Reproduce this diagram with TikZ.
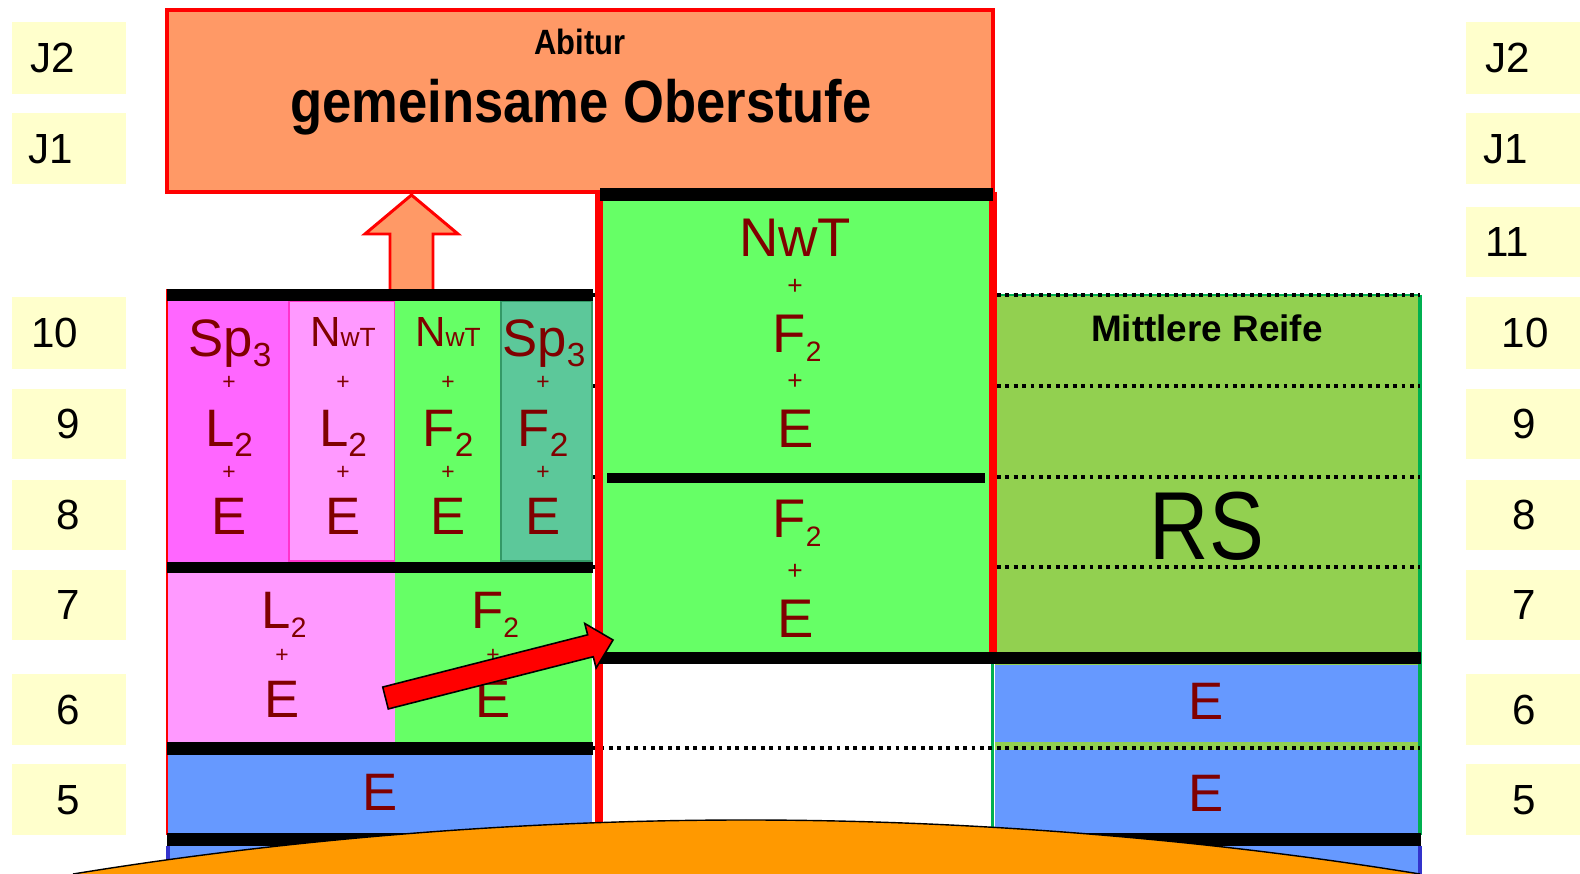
\documentclass[tikz,border=0pt]{standalone}
\usepackage{fontspec}
\setmainfont{Liberation Sans}
\newfontfamily\schmal[FakeStretch=0.88]{Liberation Sans}
\usetikzlibrary{calc}
\definecolor{lachs}{HTML}{FF9966}
\definecolor{magentafeld}{HTML}{FF66FF}
\definecolor{rosa}{HTML}{FF99FF}
\definecolor{pinkrand}{HTML}{FF33CC}
\definecolor{hellgruen}{HTML}{66FF66}
\definecolor{tuerkis}{HTML}{5CC89A}
\definecolor{tuerkisrand}{HTML}{339966}
\definecolor{blau}{HTML}{6699FF}
\definecolor{dunkelblau}{HTML}{3333CC}
\definecolor{rsgruen}{HTML}{92D050}
\definecolor{randgruen}{HTML}{00B050}
\definecolor{gelb}{HTML}{FFFFCC}
\definecolor{weinrot}{HTML}{800000}
\definecolor{sockel}{HTML}{FF9900}
\tikzset{
fach/.style={text=weinrot, inner sep=0pt, anchor=base, font=\fontsize{30}{30}\selectfont},
pluszeichen/.style={text=weinrot, inner sep=0pt, font=\fontsize{13}{13}\selectfont},
stufe/.style={inner sep=0pt, anchor=base, font=\fontsize{24}{24}\selectfont},
punkte/.style={line width=2.2pt, dash pattern=on 2.2pt off 2.6pt},
balken/.style={fill=black}
}
\def\idx#1{\raisebox{-5.5pt}{\fontsize{19}{19}\selectfont #1}}
\def\idxk#1{\raisebox{-5pt}{\fontsize{16}{16}\selectfont #1}}
\def\nwt{N{\fontsize{15}{15}\selectfont wT}}
\def\spalte#1#2#3{
\node[pluszeichen] (#1p1) at (#2,383) {+};
\node[fach] (#1mitte) at (#2,447) {#3};
\node[pluszeichen] (#1p2) at (#2,473) {+};
\node[fach] (#1unten) at (#2,535) {E};
}
\begin{document}
\begin{tikzpicture}[x=0.02cm,y=-0.02cm]
\useasboundingbox (0,0) rectangle (1580,874);
\foreach \n/\ya/\yb/\xl/\xr in {J2/22/94/53/1508, J1/113/184/51/1506, 10/297/369/55/1525, 9/389/459/68/1524, 8/480/550/68/1524, 7/570/640/68/1524, 6/674/745/68/1524, 5/764/835/68/1524}{
\fill[gelb] (12,\ya) rectangle (126,\yb);
\fill[gelb] (1466,\ya) rectangle (1580,\yb);
\node[stufe] (links\n) at (\xl,{(\ya+\yb)/2+15}) {\n};
\node[stufe] (rechts\n) at (\xr,{(\ya+\yb)/2+15}) {\n};
}
\fill[gelb] (1466,207) rectangle (1580,277);
\node[stufe] (rechts11) at (1507,257) {11};

% Realschule
\fill[rsgruen] (995,295) rectangle (1420,835);
\fill[blau] (995,665) rectangle (1418,742);
\fill[blau] (995,750) rectangle (1418,833);
\draw[randgruen, line width=2.8pt] (1420,295) -- (1420,835);
\draw[randgruen, line width=1.7pt] (992,652) -- (992,835);
\draw[randgruen, line width=1pt] (995,295) -- (1420,295);
\foreach \y in {295,386,477,567,748}
\draw[punkte] (592,\y) -- (1420,\y);

% Oberstufe
\draw[fill=lachs, draw=red, line width=2.8pt] (167,10) rectangle (993,192);
\node[inner sep=0pt, anchor=base, font=\schmal\bfseries\fontsize{20}{20}\selectfont] (abitur) at (580,55) {Abitur};
\node[inner sep=0pt, anchor=base, font=\schmal\bfseries\fontsize{34}{34}\selectfont] (oberstufe) at (581,123) {gemeinsame Oberstufe};
\draw[fill=lachs, draw=red, line width=1.7pt] (390,292) -- (390,234) -- (365,234) -- (411.5,195) -- (458,234) -- (433,234) -- (433,292);

% Gymnasium
\fill[magentafeld] (167,301) rectangle (289,562);
\draw[fill=rosa, draw=pinkrand, line width=0.6pt] (289,301) rectangle (395,561);
\fill[hellgruen] (395,301) rectangle (501,562);
\draw[fill=tuerkis, draw=tuerkisrand, line width=1pt] (501,301) rectangle (592,561);
\fill[rosa] (167,573) rectangle (395,742);
\fill[hellgruen] (395,573) rectangle (592,742);
\fill[blau] (167,755) rectangle (592,833);

% Mitte
\fill[hellgruen] (603,201) rectangle (990,652);
\draw[red, line width=4pt] (599,192) -- (599,840);
\draw[red, line width=4pt] (993,192) -- (993,652);
\draw[red, line width=1.2pt] (167,289) -- (167,835);

\fill[balken] (167,289) rectangle (593,301);
\fill[balken] (167,562) rectangle (593,573);
\fill[balken] (167,742) rectangle (593,755);
\fill[balken] (600,188) rectangle (993,201);
\fill[balken] (607,473) rectangle (985,483);
\fill[balken] (598,652) rectangle (1421,664);
\fill[balken] (167,833) rectangle (1421,846);

\fill[blau] (167,846) rectangle (1421,874);
\draw[dunkelblau, line width=2.3pt] (168,846) -- (168,874);
\draw[dunkelblau, line width=2.3pt] (1420,846) -- (1420,874);

% Faecher
\node[fach] (aoben) at (230,357) {Sp\idx{3}};
\node[fach, font=\fontsize{24}{24}\selectfont] (boben) at (343,347) {\nwt};
\node[fach, font=\fontsize{24}{24}\selectfont] (coben) at (448,347) {\nwt};
\node[fach] (doben) at (544,357) {Sp\idx{3}};
\spalte{a}{229}{L\idx{2}}
\spalte{b}{343}{L\idx{2}}
\spalte{c}{448}{F\idx{2}}
\spalte{d}{543}{F\idx{2}}

\node[fach] (lmitte) at (284,629) {L\idxk{2}};
\node[pluszeichen] (lplus) at (282,656) {+};
\node[fach] (lunten) at (282,718) {E};
\node[fach] (fmitte) at (495,629) {F\idxk{2}};
\node[pluszeichen] (fplus) at (493,656) {+};
\node[fach] (funten) at (493,718) {E};
\node[fach] (eblau) at (380,810) {E};

\node[fach, font=\fontsize{31}{31}\selectfont] (nwt) at (795,257) {NwT};
\node[pluszeichen, font=\fontsize{15}{15}\selectfont] (m1) at (795,287) {+};
\node[fach, font=\fontsize{31}{31}\selectfont] (mf1) at (797,353) {F\idxk{2}};
\node[pluszeichen, font=\fontsize{15}{15}\selectfont] (m2) at (795,382) {+};
\node[fach, font=\fontsize{31}{31}\selectfont] (me1) at (796,448) {E};
\node[fach, font=\fontsize{31}{31}\selectfont] (mf2) at (797,538) {F\idxk{2}};
\node[pluszeichen, font=\fontsize{15}{15}\selectfont] (m3) at (795,572) {+};
\node[fach, font=\fontsize{31}{31}\selectfont] (me2) at (796,638) {E};

\node[inner sep=0pt, anchor=base, font=\bfseries\fontsize{21}{21}\selectfont] (mr) at (1207,342) {Mittlere Reife};
\node[inner sep=0pt, anchor=base, xscale=0.85, font=\fontsize{55}{55}\selectfont] (rs) at (1207,560) {RS};
\node[fach] (re1) at (1206,720) {E};
\node[fach] (re2) at (1206,811) {E};

% Wechsel
\coordinate (pfeilfuss) at (385.5,698);
\begin{scope}[shift={(pfeilfuss)}, rotate=14.3]
\draw[fill=red, line width=0.9pt] (0,-11.3) -- (211.5,-11.3) -- (211.5,-23) -- (234.8,0) -- (211.5,23) -- (211.5,11.3) -- (0,11.3) -- cycle;
\end{scope}

% Grundschule
\fill[sockel] (73,874) parabola bend (746,820) (1420,874) -- cycle;
\draw[line width=0.8pt] (73,874) parabola bend (746,820) (1420,874);
\end{tikzpicture}
\end{document}
